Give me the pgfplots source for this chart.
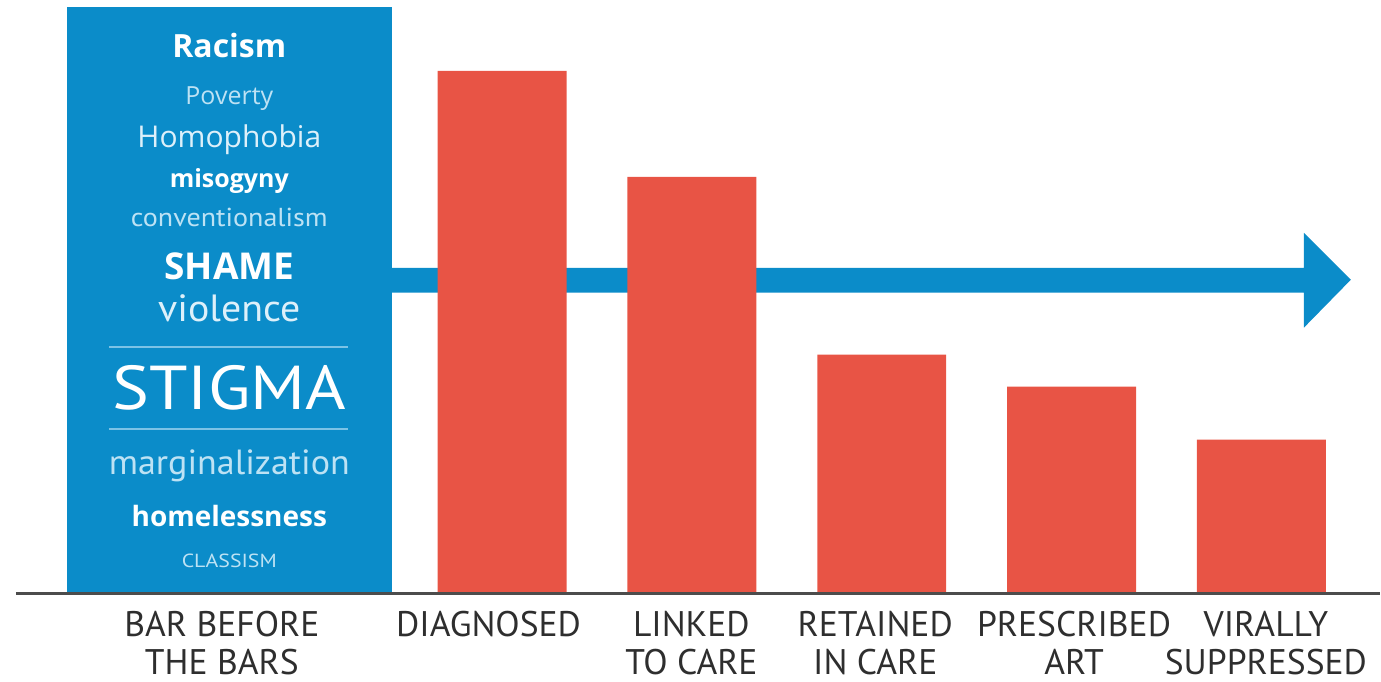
\documentclass[border=0pt]{standalone}
\usepackage{pgfplots}
\pgfplotsset{compat=1.18}
\usepackage{fontspec}
\setmainfont{PT Sans}
\newfontfamily\lab{PT Sans}
\newfontfamily\gw{Open Sans}
\definecolor{cblue}{HTML}{0B8CC9}
\definecolor{cred}{HTML}{E85445}
\definecolor{pale}{HTML}{BDE2F4}
\definecolor{palei}{HTML}{DDF0FA}
\definecolor{sep}{HTML}{7CC3E6}
\definecolor{labc}{HTML}{2E2E2E}
\tikzset{lbl/.style={anchor=base, text=labc, font=\lab\fontsize{17.8}{19}\selectfont}}
\begin{document}
\begin{tikzpicture}
\begin{axis}[
  width=690.5pt, height=339.5pt, scale only axis,
  xmin=0, xmax=1381, ymin=-85, ymax=594,
  hide axis, clip=false,
]
% invisible frame for bounding box
\path (axis cs:0,-85) rectangle (axis cs:1381,594);
% blue bar
\addplot[ybar, bar width=325, bar shift=0pt, fill=cblue, draw=none] coordinates {(229.5,587)};
% arrow
\addplot[fill=cblue, draw=none] coordinates {(390,301) (1305,301) (1305,266) (1352,314) (1305,361) (1305,326) (390,326)} -- cycle;
% red bars
\addplot[ybar, bar width=129, bar shift=0pt, fill=cred, draw=none] coordinates {
  (502.5,523) (692.5,417) (882.5,239) (1072.5,207) (1262.5,154)};
% baseline
\addplot[draw=black!70, line width=1.2pt] coordinates {(16,0) (1381,0)};
% words in the blue bar
\node[anchor=base, text=white] at (axis cs:229.5,536) {\gw\bfseries\fontsize{16}{19}\selectfont Racism};
\node[anchor=base, text=pale] at (axis cs:229.5,489) {\gw\fontsize{12.5}{15}\selectfont Poverty};
\node[anchor=base, text=palei] at (axis cs:229.5,446) {\gw\fontsize{15}{18}\selectfont Homophobia};
\node[anchor=base, text=white] at (axis cs:229.5,406) {\gw\bfseries\fontsize{12.5}{15}\selectfont misogyny};
\node[anchor=base, text=pale] at (axis cs:229.5,367) {\lab\scalebox{1.08}[1]{\fontsize{13}{15}\selectfont conventionalism}};
\node[anchor=base, text=white] at (axis cs:229.5,314) {\gw\bfseries\fontsize{18.5}{22}\selectfont SHAME};
\node[anchor=base, text=palei] at (axis cs:229.5,272) {\lab\scalebox{1.05}[1]{\fontsize{19}{22}\selectfont violence}};
\addplot[draw=sep, line width=1pt] coordinates {(109,247) (348,247)};
\node[anchor=base, text=white] at (axis cs:229.5,184) {\lab\scalebox{1.12}[1]{\fontsize{31}{36}\selectfont STIGMA}};
\addplot[draw=sep, line width=1pt] coordinates {(109,165) (348,165)};
\node[anchor=base, text=pale] at (axis cs:229.5,119) {\lab\scalebox{1.03}[1]{\fontsize{17.5}{20}\selectfont marginalization}};
\node[anchor=base, text=white] at (axis cs:229.5,67) {\gw\bfseries\fontsize{14}{17}\selectfont homelessness};
\node[anchor=base, text=pale] at (axis cs:229.5,26) {\lab\scalebox{1.15}[1]{\fontsize{9.5}{11}\selectfont CLASSISM}};
% category labels
\node[lbl] at (axis cs:222,-43) {BAR BEFORE};
\node[lbl] at (axis cs:222,-81) {THE BARS};
\node[lbl] at (axis cs:489,-43) {DIAGNOSED};
\node[lbl] at (axis cs:692,-43) {LINKED};
\node[lbl] at (axis cs:692,-81) {TO CARE};
\node[lbl] at (axis cs:876,-43) {RETAINED};
\node[lbl] at (axis cs:876,-81) {IN CARE};
\node[lbl] at (axis cs:1075,-43) {PRESCRIBED};
\node[lbl] at (axis cs:1075,-81) {ART};
\node[lbl] at (axis cs:1267,-43) {VIRALLY};
\node[lbl] at (axis cs:1267,-81) {SUPPRESSED};
\end{axis}
\end{tikzpicture}
\end{document}
